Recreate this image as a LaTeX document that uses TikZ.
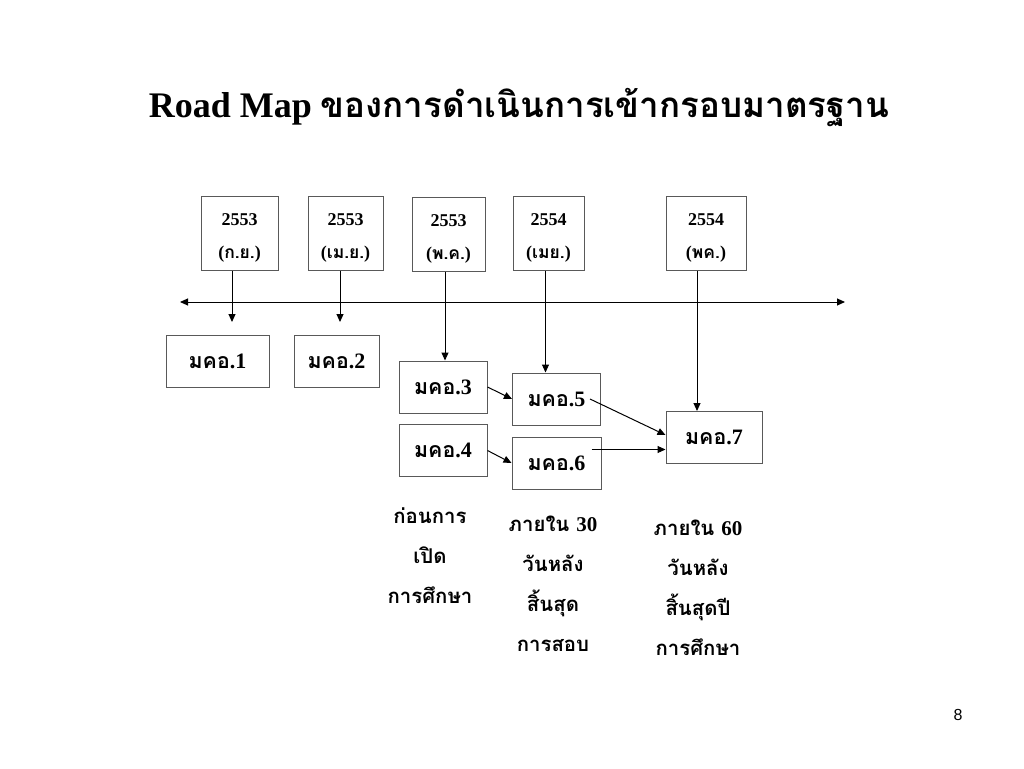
\documentclass[tikz,border=0pt]{standalone}
\usepackage{fontspec}
\setmainfont{Liberation Serif}
\newfontfamily\thai[Script=Thai,Scale=0.97]{Loma}
\newfontfamily\pagefont{Liberation Sans}
\usetikzlibrary{arrows.meta}
\newcommand{\yrstrut}{\rule{0pt}{21pt}}

\begin{document}
\begin{tikzpicture}[x=1pt,y=-1pt,>={Triangle[length=8pt,width=7pt]}]
  \useasboundingbox (0,0) rectangle (1024,768);
  \node (title) at (519,108) {\fontsize{36}{40}\selectfont\bfseries Road Map {\thai ของการดำเนินการเข้ากรอบมาตรฐาน}};
  \begin{scope}[every node/.style={draw=black!65,line width=1pt,minimum height=74pt,align=center,font=\fontsize{18}{33}\selectfont\bfseries}]
  \node[minimum width=77pt] (y1) at (239.5,233) {\yrstrut 2553\\({\thai ก.ย.})};
  \node[minimum width=75pt] (y2) at (345.5,233) {\yrstrut 2553\\({\thai เม.ย.})};
  \node[minimum width=73pt] (y3) at (448.5,234) {\yrstrut 2553\\({\thai พ.ค.})};
  \node[minimum width=71pt] (y4) at (548.5,233) {\yrstrut 2554\\({\thai เมย.})};
  \node[minimum width=80pt] (y5) at (706,233) {\yrstrut 2554\\({\thai พค.})};
  \end{scope}
  \begin{scope}[every node/.style={draw=black!65,line width=1pt,minimum height=52pt,font=\fontsize{22}{24}\selectfont\bfseries}]
  \node[minimum width=103pt] (m1) at (217.5,361.5) {{\thai มคอ}.1};
  \node[minimum width=85pt] (m2) at (336.5,361.5) {{\thai มคอ}.2};
  \node[minimum width=88pt] (m3) at (443,387) {{\thai มคอ}.3};
  \node[minimum width=88pt] (m4) at (443,450.5) {{\thai มคอ}.4};
  \node[minimum width=88pt] (m5) at (556.5,399) {{\thai มคอ}.5};
  \node[minimum width=89pt] (m6) at (556.5,463) {{\thai มคอ}.6};
  \node[minimum width=96pt] (m7) at (714,437.5) {{\thai มคอ}.7};
  \end{scope}
  \begin{scope}[every node/.style={align=center,font=\fontsize{21}{40}\selectfont\bfseries\thai}]
  \node (n1) at (430,556) {ก่อนการ\\เปิด\\การศึกษา};
  \node (n2) at (553,584) {ภายใน {\rmfamily 30}\\วันหลัง\\สิ้นสุด\\การสอบ};
  \node (n3) at (698,588) {ภายใน {\rmfamily 60}\\วันหลัง\\สิ้นสุดปี\\การศึกษา};
  \end{scope}
  \node[font=\pagefont\fontsize{16}{18}\selectfont] (pg) at (958,715) {8};
  \coordinate (tl) at (180,302);
  \coordinate (tr) at (845,302);
  \coordinate (c1) at (232,322);
  \coordinate (c2) at (340,322);
  \coordinate (c3) at (445,0);
  \coordinate (c4) at (545.5,0);
  \coordinate (c5) at (697,0);
  \begin{scope}[every edge/.style={draw=black,line width=1pt,->}]
  \path (tl) edge[<->] (tr);
  \path (y1.south -| c1) edge (c1);
  \path (y2.south -| c2) edge (c2);
  \path (y3.south -| c3) edge (m3.north -| c3);
  \path (y4.south -| c4) edge (m5.north -| c4);
  \path (y5.south -| c5) edge (m7.north -| c5);
  \path (m3.east) edge (m5.west);
  \path (m4.east) edge (m6.west);
  \path ([xshift=-11pt]m5.east) edge ([yshift=2.5pt]m7.west);
  \path ([xshift=-10pt,yshift=13.5pt]m6.east) edge ([yshift=-12pt]m7.west);
  \end{scope}
\end{tikzpicture}
\end{document}
